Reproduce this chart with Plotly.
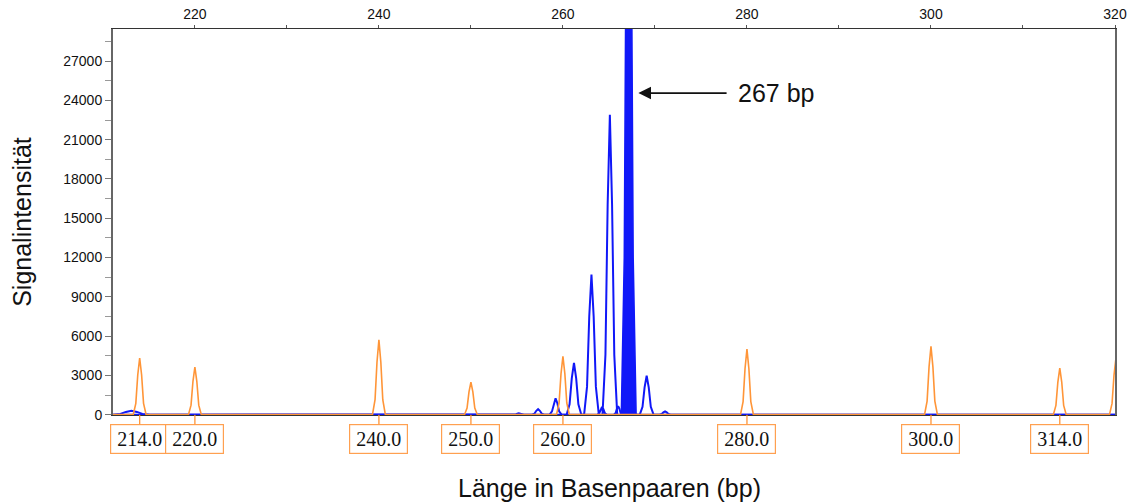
import plotly.graph_objects as go

# ---------------- data ----------------
# size standard (orange) peaks: position in bp and height
std_pos = [214.0, 220.0, 240.0, 250.0, 260.0, 280.0, 300.0, 314.0, 320.1]
std_height = [4330, 3640, 5720, 2490, 4450, 5010, 5210, 3560, 4300]
std_labels = [214.0, 220.0, 240.0, 250.0, 260.0, 280.0, 300.0, 314.0]

# sample (blue) peaks: position in bp, height, half-width in bp
smp_pos = [213.1, 255.2, 257.3, 259.2, 261.2, 263.1, 264.25, 265.1, 266.0, 269.1, 271.1]
smp_height = [300, 100, 420, 1250, 3950, 10700, 600, 22900, 650, 2970, 250]
smp_halfwidth = [2.0, 0.55, 0.65, 0.65, 0.8, 0.8, 0.5, 0.8, 0.45, 0.75, 0.6]

# saturated (off-scale) main peak at 267 bp
main_pos = 267.15
main_height = 60000
main_halfwidth = 0.8

x_range = [211.1, 320.0]
y_range = [-25, 29450]

# ---------------- peak drawing profile (style) ----------------
prof_off = [-1.0, -0.6, -0.3, 0.0, 0.3, 0.6, 1.0]
prof_frac = [0.0, 0.2, 0.7, 1.0, 0.7, 0.2, 0.0]


def build(positions, heights, widths):
    xs = [x_range[0]]
    ys = [0]
    for p, h, w in sorted(zip(positions, heights, widths)):
        for o, f in zip(prof_off, prof_frac):
            xs.append(p + o * w)
            ys.append(h * f)
    xs.append(max(x_range[1], xs[-1]) + 0.5)
    ys.append(0)
    return xs, ys


ORANGE = "#FF9538"
BLUE = "#1018F8"

fig = go.Figure()

bx, by = build(smp_pos, smp_height, smp_halfwidth)
fig.add_trace(go.Scatter(x=bx, y=by, mode="lines",
                         line=dict(color=BLUE, width=2), hoverinfo="skip"))

mx, my = build([main_pos], [main_height], [main_halfwidth])
fig.add_trace(go.Scatter(x=mx, y=my, mode="lines", fill="tozeroy",
                         fillcolor=BLUE, line=dict(color=BLUE, width=1.6),
                         hoverinfo="skip"))

ox, oy = build(std_pos, std_height, [0.7] * len(std_pos))
fig.add_trace(go.Scatter(x=ox, y=oy, mode="lines",
                         line=dict(color=ORANGE, width=1.6), hoverinfo="skip"))

annotations = []
for v in std_labels:
    annotations.append(dict(
        x=v, y=0, xref="x", yref="y", ax=0, ay=24,
        text=f"{v:.1f}", showarrow=True, arrowhead=0, arrowwidth=1.3,
        arrowcolor=ORANGE, bordercolor="#FFA050", borderwidth=1.2,
        borderpad=2, bgcolor="white", width=53, height=24,
        font=dict(family="Liberation Serif", size=20, color="#111")))

# arrow pointing at main peak
annotations.append(dict(x=268.2, y=24560, xref="x", yref="y",
                        ax=277.95, ay=24560, axref="x", ayref="y",
                        text="", showarrow=True, arrowhead=2, arrowsize=1.4,
                        arrowwidth=1.8, arrowcolor="#111"))
annotations.append(dict(x=278.8, y=24560, xref="x", yref="y", xanchor="left",
                        yanchor="middle", text="267 bp", showarrow=False,
                        font=dict(family="Liberation Sans", size=25, color="#111")))

# axis titles
annotations.append(dict(x=0.496, y=-0.19, xref="paper", yref="paper",
                        xanchor="center", yanchor="middle", showarrow=False,
                        text="Länge in Basenpaaren (bp)",
                        font=dict(family="Liberation Sans", size=25, color="#111")))
annotations.append(dict(x=-0.091, y=0.5, xref="paper", yref="paper",
                        xanchor="center", yanchor="middle", showarrow=False,
                        textangle=-90, text="Signalintensität",
                        font=dict(family="Liberation Sans", size=25, color="#111")))

fig.update_layout(
    width=1131, height=503,
    margin=dict(l=113, r=16, t=29, b=88, autoexpand=False),
    paper_bgcolor="white", plot_bgcolor="white",
    showlegend=False,
    hovermode=False,
    annotations=annotations,
    font=dict(family="Liberation Sans", color="#111"),
    xaxis=dict(range=x_range, side="top", showgrid=False, zeroline=False,
               automargin=False,
               showline=True, linecolor="#333", linewidth=1.3, mirror=True,
               tickmode="linear", tick0=220, dtick=20, ticks="outside",
               ticklen=3, tickcolor="#555", tickwidth=1,
               minor=dict(dtick=10, tick0=220, ticks="outside", ticklen=3,
                          tickcolor="#555"),
               tickfont=dict(family="Liberation Sans", size=14, color="#111")),
    yaxis=dict(range=y_range, showgrid=False, zeroline=False,
               automargin=False,
               showline=True, linecolor="#666", linewidth=2, mirror=True,
               tickmode="linear", tick0=0, dtick=3000, tickformat="d",
               ticks="outside", ticklen=6, tickcolor="#777", tickwidth=1,
               minor=dict(dtick=1500, tick0=0, ticks="outside", ticklen=6,
                          tickcolor="#999"),
               tickfont=dict(family="Liberation Sans", size=14, color="#111")),
)

# remove the page's default 8px body margin so the figure fills the window
fig.write_html("out.html",
               config={"displayModeBar": False},
               post_script="document.body.style.margin='0';document.body.style.overflow='hidden';")
